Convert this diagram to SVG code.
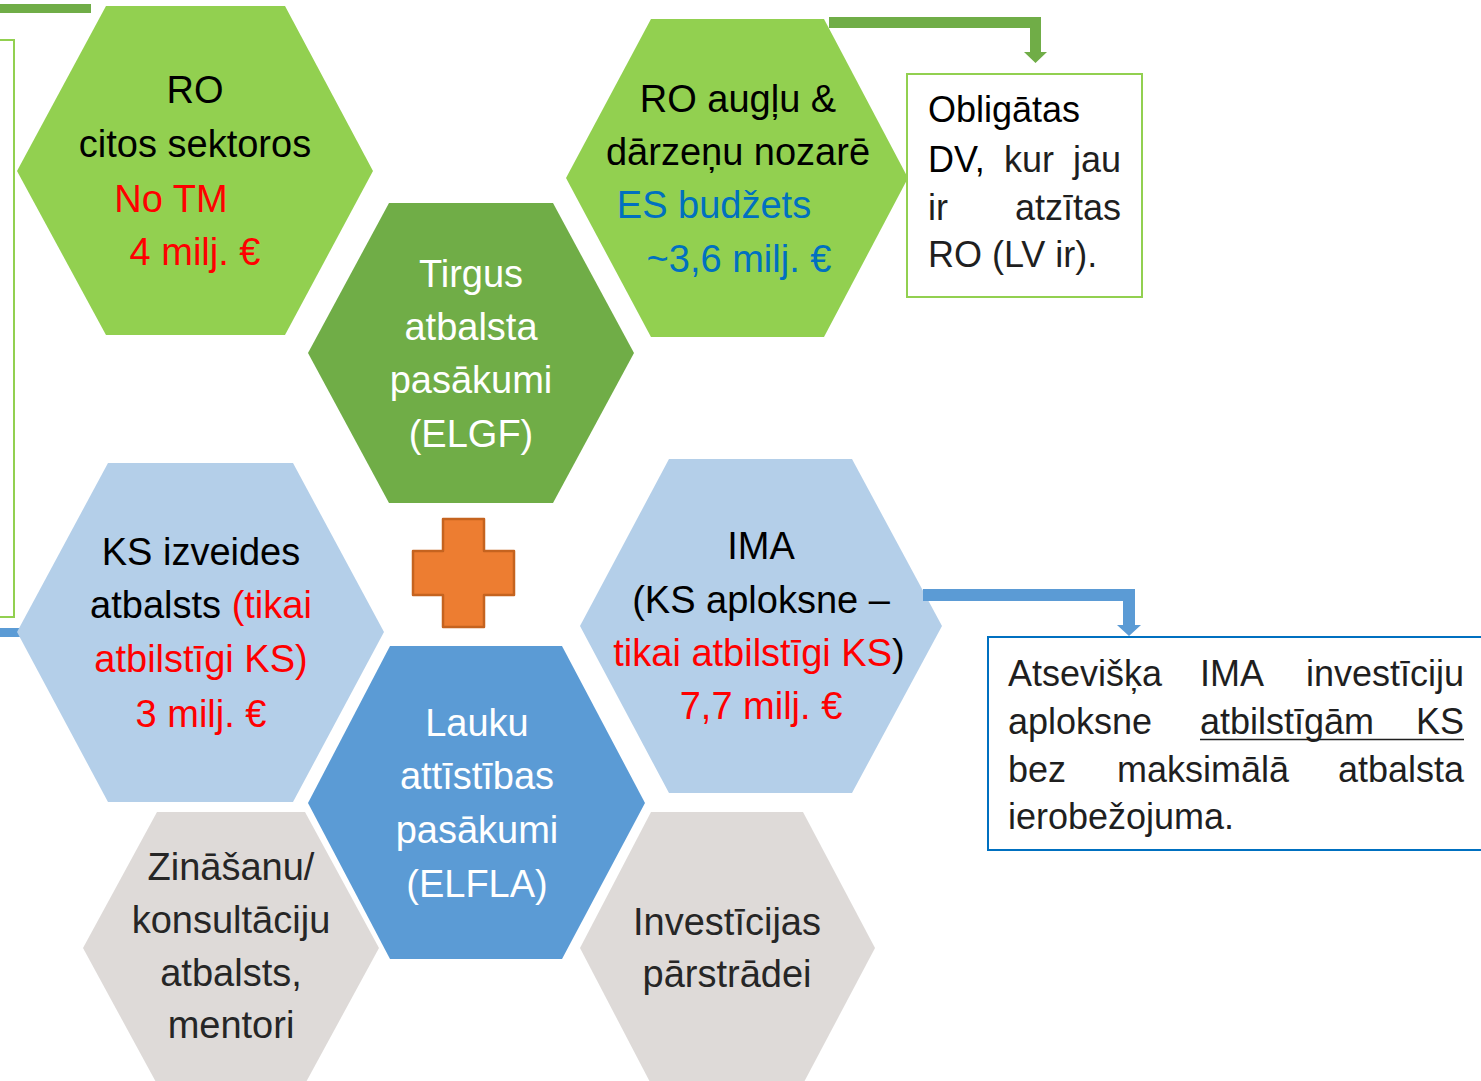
<svg xmlns="http://www.w3.org/2000/svg" width="1481" height="1081" viewBox="0 0 1481 1081">
<style>
text{font-family:"Liberation Sans",Arial,sans-serif;}
.h{font-size:38px;text-anchor:middle;}
.b{font-size:36px;fill:#1f1f1f;}
.k{fill:#000;}
.w{fill:#fff;}
.r{fill:#ff0000;}
.bl{fill:#0070c0;}
.g{fill:#262626;}
.e{text-anchor:end;}
.lg{fill:#92d050;}
.dg{fill:#70ad47;}
.lb{fill:#b4cfe9;}
.mb{fill:#5b9bd5;}
.gr{fill:#dedad8;}
</style>
<rect width="1481" height="1081" fill="#fff"/>
<g id="decor">
<rect x="-20" y="40" width="34" height="577" fill="none" stroke="#92d050" stroke-width="2"/>
<rect x="0" y="4" width="91" height="9" class="dg"/>
<rect x="0" y="628" width="24" height="9" class="mb"/>
</g>
<g id="hex-ro-citos">
<polygon class="lg" points="106,6 285,6 373,171 285,335 106,335 17,171"/>
<text class="h k" x="195" y="103">RO</text>
<text class="h k" x="195" y="157">citos sektoros</text>
<text class="h r" x="171" y="212">No TM</text>
<text class="h r" x="195" y="265">4 milj. €</text>
</g>
<g id="hex-tirgus">
<polygon class="dg" points="389,203 553,203 634,353 553,503 389,503 308,353"/>
<text class="h w" x="471" y="287">Tirgus</text>
<text class="h w" x="471" y="340">atbalsta</text>
<text class="h w" x="471" y="393">pasākumi</text>
<text class="h w" x="471" y="447">(ELGF)</text>
</g>
<g id="hex-ro-auglu">
<polygon class="lg" points="651,19 824,19 908,178 824,337 651,337 566,178"/>
<text class="h k" x="738" y="112">RO augļu &amp;</text>
<text class="h k" x="738" y="165">dārzeņu nozarē</text>
<text class="h bl" x="714" y="218">ES budžets</text>
<text class="h bl" x="739" y="272">~3,6 milj. €</text>
</g>
<g id="box-obligatas">
<rect x="907" y="74" width="235" height="223" fill="#fff" stroke="#92d050" stroke-width="2"/>
<text class="b k" x="928" y="122">Obligātas</text>
<text class="b k" x="928" y="172">DV,</text>
<text class="b" x="1004" y="172">kur</text>
<text class="b e" x="1121" y="172">jau</text>
<text class="b" x="928" y="220">ir</text>
<text class="b e" x="1121" y="220">atzītas</text>
<text class="b" x="928" y="267">RO (LV ir).</text>
</g>
<g id="hex-ks">
<polygon class="lb" points="108,463 293,463 384,632 293,802 108,802 17,632"/>
<text class="h k" x="201" y="565">KS izveides</text>
<text class="h k" x="201" y="618">atbalsts <tspan class="r">(tikai</tspan></text>
<text class="h r" x="201" y="672">atbilstīgi KS)</text>
<text class="h r" x="201" y="727">3 milj. €</text>
</g>
<g id="plus">
<polygon points="443,519 484,519 484,551 514,551 514,595 484,595 484,627 443,627 443,595 413,595 413,551 443,551" fill="#ed7d31" stroke="#c5631f" stroke-width="2.5" stroke-linejoin="round"/>
</g>
<g id="hex-ima">
<polygon class="lb" points="669,459 852,459 942,626 852,793 669,793 580,626"/>
<text class="h k" x="761" y="559">IMA</text>
<text class="h k" x="761" y="613">(KS aploksne –</text>
<text class="h r" x="759" y="666">tikai atbilstīgi KS<tspan class="k">)</tspan></text>
<text class="h r" x="761" y="719">7,7 milj. €</text>
</g>
<g id="hex-lauku">
<polygon class="mb" points="390,646 562,646 645,803 562,959 390,959 308,803"/>
<text class="h w" x="477" y="736">Lauku</text>
<text class="h w" x="477" y="789">attīstības</text>
<text class="h w" x="477" y="843">pasākumi</text>
<text class="h w" x="477" y="897">(ELFLA)</text>
</g>
<g id="hex-zinasanu">
<polygon class="gr" points="157,812 305,812 379,948 305,1084 157,1084 83,948"/>
<text class="h g" x="231" y="880">Zināšanu/</text>
<text class="h g" x="231" y="933">konsultāciju</text>
<text class="h g" x="231" y="986">atbalsts,</text>
<text class="h g" x="231" y="1038">mentori</text>
</g>
<g id="hex-investicijas">
<polygon class="gr" points="651,812 803,812 875,948 803,1084 651,1084 580,948"/>
<text class="h g" x="727" y="935">Investīcijas</text>
<text class="h g" x="727" y="987">pārstrādei</text>
</g>
<g id="box-atseviska">
<rect x="988" y="637" width="520" height="213" fill="#fff" stroke="#0070c0" stroke-width="2"/>
<text class="b" x="1008" y="686">Atsevišķa</text>
<text class="b" x="1200" y="686">IMA</text>
<text class="b e" x="1464" y="686">investīciju</text>
<text class="b" x="1008" y="734">aploksne</text>
<text class="b" x="1200" y="734">atbilstīgām</text>
<text class="b e" x="1464" y="734">KS</text>
<line x1="1200" y1="739.5" x2="1464" y2="739.5" stroke="#1f1f1f" stroke-width="1.5"/>
<text class="b" x="1008" y="782">bez</text>
<text class="b" x="1117" y="782">maksimālā</text>
<text class="b e" x="1464" y="782">atbalsta</text>
<text class="b" x="1008" y="829">ierobežojuma.</text>
</g>
<g id="connectors">
<polygon class="dg" points="829,17 1041,17 1041,52 1047,52 1035.5,63 1024,52 1030,52 1030,28 829,28"/>
<polygon class="mb" points="923,589 1135,589 1135,625 1141,625 1129,636 1117,625 1123,625 1123,601 923,601"/>
</g>
</svg>
